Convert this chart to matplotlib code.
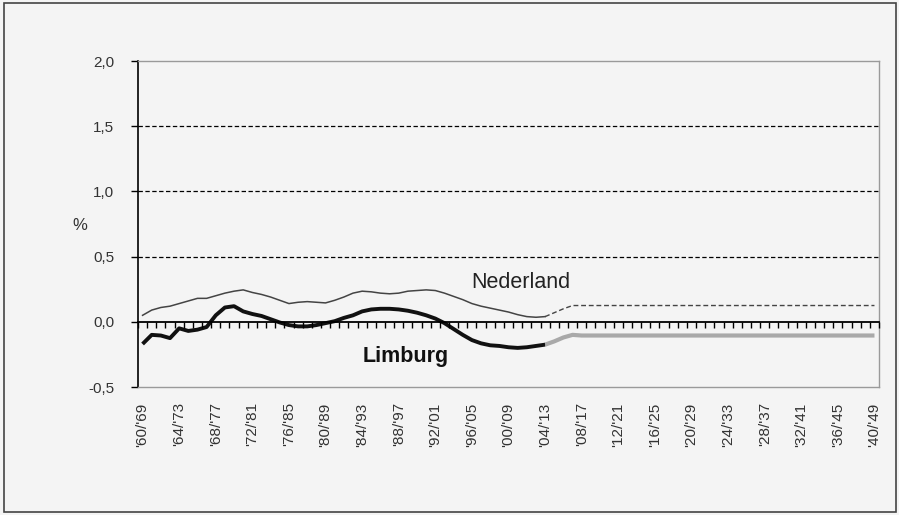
import matplotlib.pyplot as plt
from matplotlib.patches import Rectangle

plt.rcParams['font.family'] = ['Liberation Sans', 'DejaVu Sans']

# 10-year periods, by start year ('60/'69 .. '40/'49)
start_years = list(range(1960, 2041))
period_labels = ["'%02d/'%02d" % (y % 100, (y + 9) % 100) for y in start_years]

# observed growth (%), 1960-2004
nederland_hist = [0.05, 0.09, 0.11, 0.12, 0.14, 0.16, 0.18, 0.18, 0.20, 0.22,
                  0.235, 0.245, 0.225, 0.21, 0.19, 0.165, 0.14, 0.15, 0.155, 0.15,
                  0.145, 0.165, 0.19, 0.22, 0.235, 0.23, 0.22, 0.215, 0.22, 0.235,
                  0.24, 0.245, 0.24, 0.22, 0.195, 0.17, 0.14, 0.12, 0.105, 0.09,
                  0.075, 0.055, 0.04, 0.035, 0.04]
limburg_hist = [-0.17, -0.10, -0.105, -0.125, -0.05, -0.07, -0.06, -0.04, 0.05, 0.11,
                0.12, 0.08, 0.06, 0.045, 0.02, -0.005, -0.025, -0.035, -0.035, -0.025,
                -0.01, 0.005, 0.03, 0.05, 0.08, 0.095, 0.10, 0.10, 0.095, 0.085,
                0.07, 0.05, 0.025, -0.01, -0.055, -0.10, -0.14, -0.165, -0.18, -0.185,
                -0.195, -0.20, -0.195, -0.185, -0.175]

# projection, 2004-2040
nederland_proj = [0.04, 0.07, 0.10, 0.125, 0.125, 0.125, 0.125, 0.125, 0.125, 0.125,
                  0.125, 0.125, 0.125, 0.125, 0.125, 0.125, 0.125, 0.125, 0.125, 0.125,
                  0.125, 0.125, 0.125, 0.125, 0.125, 0.125, 0.125, 0.125, 0.125, 0.125,
                  0.125, 0.125, 0.125, 0.125, 0.125, 0.125, 0.125]
limburg_proj = [-0.175, -0.15, -0.12, -0.10, -0.105, -0.105, -0.105, -0.105, -0.105, -0.105,
                -0.105, -0.105, -0.105, -0.105, -0.105, -0.105, -0.105, -0.105, -0.105, -0.105,
                -0.105, -0.105, -0.105, -0.105, -0.105, -0.105, -0.105, -0.105, -0.105, -0.105,
                -0.105, -0.105, -0.105, -0.105, -0.105, -0.105, -0.105]

y_ticks = [-0.5, 0.0, 0.5, 1.0, 1.5, 2.0]
bg = '#f4f4f4'
txt = '#333333'

fig = plt.figure(figsize=(8.99, 5.15), dpi=100, facecolor=bg)
ax = fig.add_axes([0.1535, 0.2485, 0.8243, 0.633], facecolor=bg)

x_hist = list(range(len(nederland_hist)))
x_proj = list(range(len(nederland_hist) - 1, len(start_years)))

for y in [0.5, 1.0, 1.5]:
    ax.axhline(y, color='black', lw=0.9, ls=(0, (3.5, 2)), zorder=1)

ax.plot(x_proj, limburg_proj, color='#a9a9a9', lw=3.0, solid_capstyle='butt', zorder=3)
ax.plot(x_hist, limburg_hist, color='#111111', lw=2.8, solid_capstyle='butt', zorder=4)
ax.plot(x_hist, nederland_hist, color='#444444', lw=1.1, zorder=4)
ax.plot(x_proj, nederland_proj, color='#444444', lw=1.0, ls=(0, (3.5, 2)), zorder=4)

ax.set_xlim(-0.5, len(start_years) - 0.5)
ax.set_ylim(-0.5, 2.0)

ax.set_yticks(y_ticks)
ax.set_yticklabels([('%.1f' % v).replace('.', ',') for v in y_ticks])
ax.tick_params(axis='y', length=5, width=1, direction='out', pad=12,
               labelsize=11, labelcolor=txt)

ax.set_xticks(range(0, len(start_years), 4))
ax.set_xticklabels(period_labels[::4], rotation=90)
ax.tick_params(axis='x', length=0, pad=11, labelsize=11, labelcolor=txt)

ax.spines['left'].set_color('black')
ax.spines['left'].set_linewidth(1.2)
for side in ['top', 'right', 'bottom']:
    ax.spines[side].set_color('#9a9a9a')
    ax.spines[side].set_linewidth(1.0)

# category axis crossing at zero, ticks between categories
ax0 = ax.twiny()
ax0.set_xlim(ax.get_xlim())
ax0.spines['bottom'].set_position(('data', 0))
ax0.spines['bottom'].set_color('black')
ax0.spines['bottom'].set_linewidth(1.3)
for side in ['top', 'right', 'left']:
    ax0.spines[side].set_visible(False)
ax0.xaxis.tick_bottom()
ax0.set_xticks([i - 0.5 for i in range(len(start_years) + 1)])
ax0.tick_params(axis='x', length=4, width=1, direction='out', labelbottom=False,
                labeltop=False, color='black')
ax0.set_zorder(ax.get_zorder() + 1)
ax0.patch.set_visible(False)

ax.text(35.9, 0.26, 'Nederland', fontsize=15.5, color='#222222', ha='left', va='baseline', zorder=5)
ax.text(24.0, -0.305, 'Limburg', fontsize=15.5, fontweight='bold', color='#111111',
        ha='left', va='baseline', zorder=5)

fig.text(80 / 899, 1 - 225 / 515, '%', fontsize=12, color=txt, ha='center', va='center')

fig.patches.append(Rectangle((0.0045, 0.005), 0.992, 0.989, transform=fig.transFigure,
                             fill=False, edgecolor='#444444', lw=1.2))

fig.savefig('out.png', dpi=100, facecolor=bg)
